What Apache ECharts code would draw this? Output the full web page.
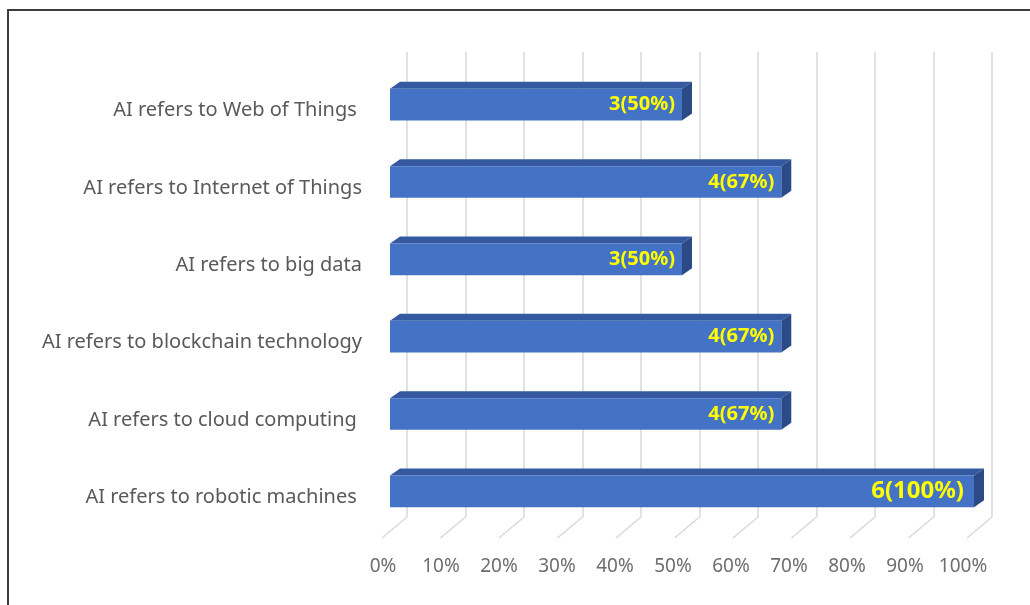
<!DOCTYPE html>
<html>
<head>
<meta charset="utf-8">
<script src="https://cdn.jsdelivr.net/npm/echarts@6/dist/echarts.min.js"></script>
<style>
  html, body { margin: 0; padding: 0; background: #ffffff; }
  #chart { width: 1030px; height: 605px; }
</style>
</head>
<body>
<div id="chart"></div>
<script>
// Statements, listed top to bottom
const categories = [
  'AI refers to Web of Things ',
  'AI refers to Internet of Things',
  'AI refers to big data',
  'AI refers to blockchain technology',
  'AI refers to cloud computing ',
  'AI refers to robotic machines '
];
// Number of respondents agreeing, and the share of respondents
const counts = [3, 4, 3, 4, 4, 6];
const percents = [50, 67, 50, 67, 67, 100];
// Percentage axis ticks
const tickValues = [0, 10, 20, 30, 40, 50, 60, 70, 80, 90, 100];

const FONT = '"Noto Sans", "Open Sans", sans-serif';
const DEPTH_X = 10, DEPTH_Y = 7;     // bar extrusion
const FLOOR_DX = -25, FLOOR_DY = 21; // floor lines from back wall to front edge

const chart = echarts.init(document.getElementById('chart'), null, { renderer: 'canvas' });

const option = {
  backgroundColor: '#ffffff',
  animation: false,
  grid: [
    // back wall (vertical gridlines)
    { left: 407, right: 38, top: 52, bottom: 88 },
    // front floor edge (tick labels)
    { left: 383, right: 67, top: 52, bottom: 65 },
    // bars
    { left: 390, right: 56, top: 66, bottom: 75 },
    // category labels, sitting slightly below the bar fronts
    { left: 390, right: 56, top: 72, bottom: 69 }
  ],
  xAxis: [
    {
      gridIndex: 0, type: 'value', min: 0, max: 100, interval: 10,
      axisLine: { show: false }, axisTick: { show: false }, axisLabel: { show: false },
      splitLine: { show: true, lineStyle: { color: '#d9d9d9', width: 1.5 } }
    },
    {
      gridIndex: 1, type: 'value', min: 0, max: 100, interval: 10,
      axisLine: { show: false }, axisTick: { show: false }, splitLine: { show: false },
      axisLabel: {
        margin: 17, color: '#6e6e6e', fontFamily: FONT, fontSize: 19,
        formatter: v => v + '%'
      }
    },
    { gridIndex: 2, type: 'value', min: 0, max: 100, show: false },
    { gridIndex: 3, type: 'value', min: 0, max: 100, show: false }
  ],
  yAxis: [
    { gridIndex: 0, type: 'value', min: 0, max: 1, show: false },
    { gridIndex: 1, type: 'value', min: 0, max: 1, show: false },
    { gridIndex: 2, type: 'category', inverse: true, data: categories, show: false },
    {
      gridIndex: 3, type: 'category', inverse: true, data: categories,
      axisLine: { show: false }, axisTick: { show: false }, splitLine: { show: false },
      axisLabel: { margin: 28, color: '#595959', fontFamily: FONT, fontSize: 20 }
    }
  ],
  graphic: [
    {
      type: 'polyline', z: 100,
      shape: { points: [[8, 605], [8, 10], [1030, 10]] },
      style: { stroke: '#3d3d3d', lineWidth: 2, fill: null }
    }
  ],
  series: [
    {
      // diagonal floor lines under each gridline
      type: 'custom', xAxisIndex: 0, yAxisIndex: 0,
      data: tickValues.map(v => [v, 0]),
      renderItem(params, api) {
        const p = api.coord([api.value(0), 0]);
        return {
          type: 'line',
          shape: { x1: p[0], y1: p[1], x2: p[0] + FLOOR_DX, y2: p[1] + FLOOR_DY },
          style: { stroke: '#d9d9d9', lineWidth: 1.5 }
        };
      },
      silent: true, z: 1
    },
    {
      // extruded bars with value labels
      type: 'custom', xAxisIndex: 2, yAxisIndex: 2,
      data: percents.map((p, i) => [p, i, counts[i]]),
      encode: { x: 0, y: 1 },
      renderItem(params, api) {
        const v = api.value(0);
        const i = api.value(1);
        const start = api.coord([0, i]);
        const end = api.coord([v, i]);
        const band = api.size([0, 1])[1];
        const h = band * 0.41;
        const top = start[1] - h / 2;
        const x0 = start[0], x1 = end[0];
        const full = v >= 100;
        return {
          type: 'group',
          children: [
            {
              type: 'polygon',
              shape: { points: [[x0, top], [x0 + DEPTH_X, top - DEPTH_Y], [x1 + DEPTH_X, top - DEPTH_Y], [x1, top]] },
              style: { fill: '#3459a0' }
            },
            {
              type: 'polygon',
              shape: { points: [[x1, top], [x1 + DEPTH_X, top - DEPTH_Y], [x1 + DEPTH_X, top + h - DEPTH_Y], [x1, top + h]] },
              style: { fill: '#2b4a86' }
            },
            {
              type: 'rect',
              shape: { x: x0, y: top, width: x1 - x0, height: h },
              style: { fill: '#4472c4' }
            },
            {
              type: 'text',
              x: x1 - (full ? 10 : 7), y: start[1],
              style: {
                text: api.value(2) + '(' + v + '%)',
                align: 'right', verticalAlign: 'middle',
                fill: '#ffff00',
                font: 'bold ' + (full ? 24 : 20) + 'px ' + FONT
              }
            }
          ]
        };
      },
      z: 5
    }
  ]
};

chart.setOption(option);
</script>
</body>
</html>
